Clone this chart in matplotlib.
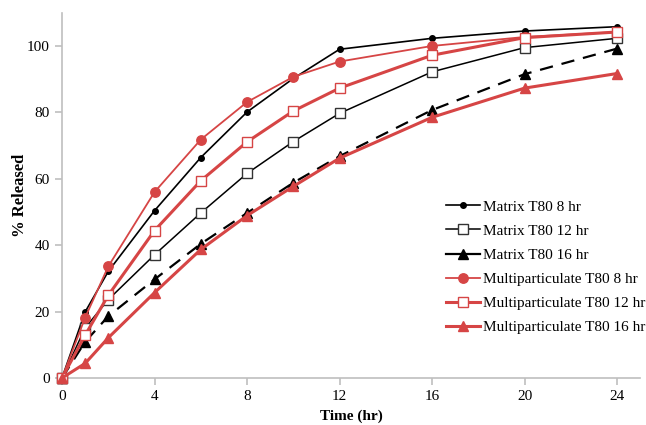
import matplotlib
matplotlib.use("Agg")
import matplotlib.pyplot as plt
from matplotlib.lines import Line2D

time = [0, 1, 2, 4, 6, 8, 10, 12, 16, 20, 24]
matrix_8 = [0, 19.9, 32.1, 50.4, 66.4, 80.1, 90.2, 99.0, 102.3, 104.5, 105.8]
matrix_12 = [0, 15.1, 23.6, 37.1, 49.7, 61.6, 71.2, 79.7, 92.2, 99.5, 102.3]
matrix_16 = [0, 10.9, 18.6, 29.7, 40.4, 49.7, 58.8, 66.8, 80.7, 91.5, 99.2]
multi_8 = [0, 18.2, 33.6, 56.0, 71.8, 83.1, 90.7, 95.3, 100.0, 102.7, 104.2]
multi_12 = [0, 12.9, 24.9, 44.4, 59.4, 71.1, 80.4, 87.3, 97.2, 102.5, 104.2]
multi_16 = [0, 4.4, 12.1, 25.7, 38.7, 48.9, 57.7, 66.2, 78.5, 87.3, 91.7]

labels = ["Matrix T80 8 hr", "Matrix T80 12 hr", "Matrix T80 16 hr",
          "Multiparticulate T80 8 hr", "Multiparticulate T80 12 hr",
          "Multiparticulate T80 16 hr"]
xticks = [0, 4, 8, 12, 16, 20, 24]
yticks = [0, 20, 40, 60, 80, 100]

plt.rcParams['font.family'] = ['Liberation Serif', 'DejaVu Serif']

RED = '#d64545'
BLACK = '#000000'
AX = '#bfbfbf'

fig = plt.figure(figsize=(6.46, 4.25), dpi=100)
ax = fig.add_axes([0.096, 0.1106, 0.895, 0.8594])

styles = [
    dict(color=BLACK, lw=1.2, marker='o', ms=4, mfc=BLACK, mec=BLACK, ls='-'),
    dict(color=BLACK, lw=1.1, marker='s', ms=7, mfc='white', mec='#333333', mew=1.0, ls='-'),
    dict(color=BLACK, lw=1.6, marker='^', ms=6.5, mfc=BLACK, mec=BLACK, ls=(0, (6, 4))),
    dict(color=RED, lw=1.3, marker='o', ms=6.8, mfc=RED, mec=RED, ls='-'),
    dict(color=RED, lw=2.2, marker='s', ms=7, mfc='white', mec=RED, mew=1.0, ls='-'),
    dict(color=RED, lw=2.2, marker='^', ms=7.5, mfc=RED, mec=RED, ls='-'),
]
series = [matrix_8, matrix_12, matrix_16, multi_8, multi_12, multi_16]

handles = []
for ys, st, lab in zip(series, styles, labels):
    ax.plot(time, ys, clip_on=False, zorder=3, **st)
    hs = dict(st)
    hs['ls'] = '-'
    handles.append(Line2D([], [], **hs))

ax.set_xlim(0, 25)
ax.set_ylim(0, 110)
ax.set_xticks(xticks)
ax.set_yticks(yticks)
for s in ['top', 'right']:
    ax.spines[s].set_visible(False)
for s in ['left', 'bottom']:
    ax.spines[s].set_color(AX)
    ax.spines[s].set_linewidth(1.2)
ax.tick_params(axis='both', direction='out', length=5, color=AX, width=1.2,
               labelsize=11, pad=4)

ax.set_xlabel('Time (hr)', fontsize=11, fontweight='bold', labelpad=4)
ax.set_ylabel('% Released', fontsize=12, fontweight='bold', labelpad=-1)

leg = ax.legend(handles, labels, loc='upper left',
                bbox_to_anchor=(446 / 646, 1 - 200 / 425),
                bbox_transform=fig.transFigure,
                frameon=False, fontsize=11, handlelength=2.2,
                handletextpad=0.25, labelspacing=0.68, borderaxespad=0,
                borderpad=0)

fig.savefig('out.png', dpi=100)
